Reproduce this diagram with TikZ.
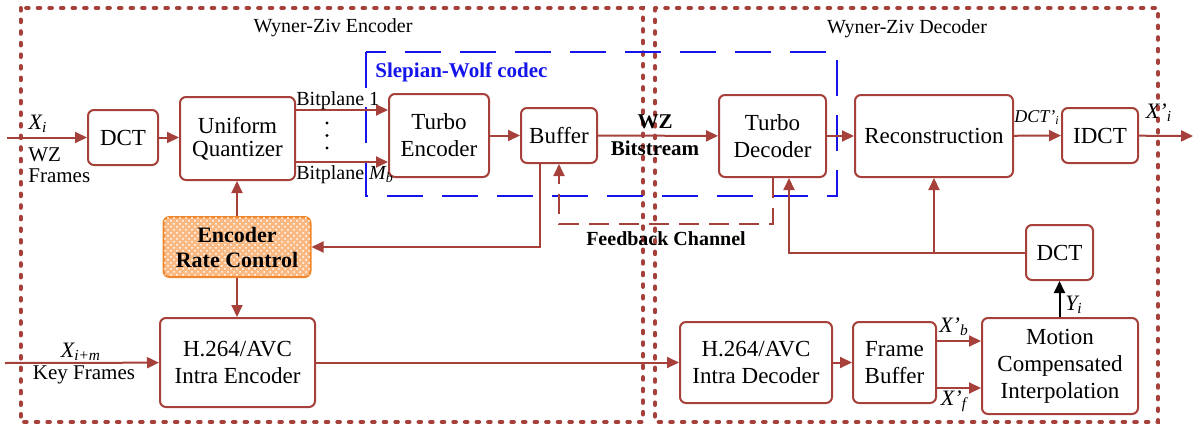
\documentclass[tikz,border=0pt]{standalone}
\usepackage{fontspec}
\setmainfont{Liberation Serif}
\usetikzlibrary{arrows.meta,patterns}
\definecolor{wz_red}{RGB}{165, 64, 58}
\definecolor{sw_blue}{RGB}{20, 20, 235}
\definecolor{rc_orange}{RGB}{240, 135, 45}
\definecolor{rc_fill}{RGB}{250, 185, 130}
\tikzstyle{bx}=[rectangle,rounded corners=3pt,draw=wz_red,fill=white,
  line width=1pt,align=center,inner sep=1pt,font=\fontsize{11.5}{13.5}\selectfont]
\tikzstyle{rc}=[bx,draw=rc_orange,fill=rc_fill,
  postaction={pattern=crosshatch dots,pattern color=white},font=\fontsize{11}{12.5}\selectfont\bfseries]
\tikzstyle{lbl}=[inner sep=0pt,font=\fontsize{10}{12}\selectfont]
\tikzstyle{bold}=[lbl,font=\fontsize{10.5}{12}\selectfont\bfseries]
\tikzstyle{arr}=[draw=wz_red,line width=1pt,-{Triangle[length=6pt,width=5.5pt]}]
\tikzstyle{fb}=[arr,dash pattern=on 10pt off 5pt]
\tikzstyle{outer}=[draw=wz_red,line width=2pt,line cap=round,dash pattern=on 1.3pt off 4.5pt]
\tikzstyle{sw}=[draw=sw_blue,line width=1pt,dash pattern=on 18pt off 9.5pt]

\begin{document}
\begin{tikzpicture}[x=0.5pt, y=-0.5pt]
            \useasboundingbox (0,0) rectangle (1194,428);
            \draw [style=outer] (20.5,8) rectangle (643,422);
            \draw [style=outer] (655,8) rectangle (1158,422);
            \draw [style=sw] (366,52) rectangle (837,196);
            \node [style=lbl] (30) at (333,28) {Wyner-Ziv Encoder};
            \node [style=lbl] (31) at (907,29) {Wyner-Ziv Decoder};
            \node [style=bold, anchor=west, text=sw_blue] (32) at (375,72) {Slepian-Wolf codec};
            \node [style=bx, minimum width=35pt, minimum height=27.5pt] (1) at (123,137.5) {DCT};
            \node [style=bx, minimum width=57.5pt, minimum height=41.5pt, font=\fontsize{11.5}{11.5}\selectfont] (2) at (237.5,138.5) {Uniform\\Quantizer};
            \node [style=bx, minimum width=50pt, minimum height=41.5pt] (3) at (439,135.5) {Turbo\\Encoder};
            \node [style=bx, minimum width=38pt, minimum height=27.5pt] (4) at (559,135.5) {Buffer};
            \node [style=bx, minimum width=53.5pt, minimum height=41pt] (5) at (772.5,136) {Turbo\\Decoder};
            \node [style=bx, minimum width=79pt, minimum height=41pt] (6) at (934,136) {Reconstruction};
            \node [style=bx, minimum width=38pt, minimum height=27.5pt] (7) at (1100,135.5) {IDCT};
            \node [style=rc, minimum width=73.5pt, minimum height=30pt] (8) at (237,247) {Encoder\\Rate Control};
            \node [style=bx, minimum width=77.5pt, minimum height=44.5pt] (9) at (237.5,362.5) {H.264/AVC\\Intra Encoder};
            \node [style=bx, minimum width=76pt, minimum height=40.5pt] (10) at (756,362.5) {H.264/AVC\\Intra Decoder};
            \node [style=bx, minimum width=41.5pt, minimum height=40.5pt] (11) at (894.5,362.5) {Frame\\Buffer};
            \node [style=bx, minimum width=78pt, minimum height=48pt] (12) at (1060,366) {Motion\\Compensated\\Interpolation};
            \node [style=bx, minimum width=33.5pt, minimum height=27.5pt] (13) at (1059.5,252.5) {DCT};
            \coordinate (20) at (7,137.5);
            \coordinate (21) at (5,363);
            \coordinate (22) at (1193,136);
            \draw [style=arr] (20) to (1);
            \draw [style=arr] (1.east) to (1.east -| 2.west);
            \draw [style=arr] (2.east |- 0,110) to (3.west |- 0,110);
            \draw [style=arr] (2.east |- 0,162) to (3.west |- 0,162);
            \draw [style=arr] (3) to (4);
            \draw [style=arr] (4) to (5);
            \draw [style=arr] (5) to (6);
            \draw [style=arr] (6) to (7);
            \draw [style=arr] (7) to (22);
            \draw [style=arr] (8.north) to (8.north |- 2.south);
            \draw [style=arr] (8.south) to (8.south |- 9.north);
            \draw [style=arr] ([xshift=-9.5pt]4.south) |- (8.east);
            \draw [style=fb] (5.south) |- (4 |- 0,224) -- (4.south);
            \draw [style=arr] (13.west) -| ([xshift=8.25pt]5.south);
            \draw [style=arr] (6.south |- 13.west) to (6.south);
            \draw [style=arr, draw=black] (13.south |- 12.north) to (13.south);
            \draw [style=arr] (21) to (9);
            \draw [style=arr] (9) to (10);
            \draw [style=arr] (10) to (11);
            \draw [style=arr] (11.east |- 0,341) to (12.west |- 0,341);
            \draw [style=arr] (11.east |- 0,388) to (12.west |- 0,388);
            \fill (327,123) circle (0.8pt) (327,135.5) circle (0.8pt) (327,148) circle (0.8pt);
            \node [style=lbl, font=\fontsize{11}{12}\selectfont] (33) at (38,124) {\textit{X\textsubscript{i}}};
            \node [style=lbl, anchor=west, font=\fontsize{10.5}{12}\selectfont] (34) at (28,155) {WZ};
            \node [style=lbl, anchor=west, font=\fontsize{10.5}{12}\selectfont] (35) at (28,176) {Frames};
            \node [style=lbl, font=\fontsize{11}{12}\selectfont] (36) at (81,352) {\textit{X\textsubscript{i+m}}};
            \node [style=lbl, font=\fontsize{10.5}{12}\selectfont] (37) at (84,375) {Key Frames};
            \node [style=lbl, anchor=west] (38) at (296,101) {Bitplane 1};
            \node [style=lbl, anchor=west] (39) at (296,175) {Bitplane \textit{M\textsubscript{b}}};
            \node [style=bold] (40) at (655,122) {WZ};
            \node [style=bold] (41) at (655,148) {Bitstream};
            \node [style=bold, font=\fontsize{10}{12}\selectfont\bfseries] (42) at (666,239) {Feedback Channel};
            \node [style=lbl, font=\fontsize{9}{10}\selectfont\itshape] (43) at (1037,118) {DCT’\textsubscript{i}};
            \node [style=lbl, font=\fontsize{11}{12}\selectfont] (44) at (1159,113) {\textit{X’\textsubscript{i}}};
            \node [style=lbl, font=\fontsize{11}{12}\selectfont] (45) at (954,327) {\textit{X’\textsubscript{b}}};
            \node [style=lbl, font=\fontsize{11}{12}\selectfont] (46) at (954,401) {\textit{X’\textsubscript{f}}};
            \node [style=lbl, font=\fontsize{11}{12}\selectfont] (47) at (1074,305) {\textit{Y\textsubscript{i}}};
    \end{tikzpicture}
\end{document}
